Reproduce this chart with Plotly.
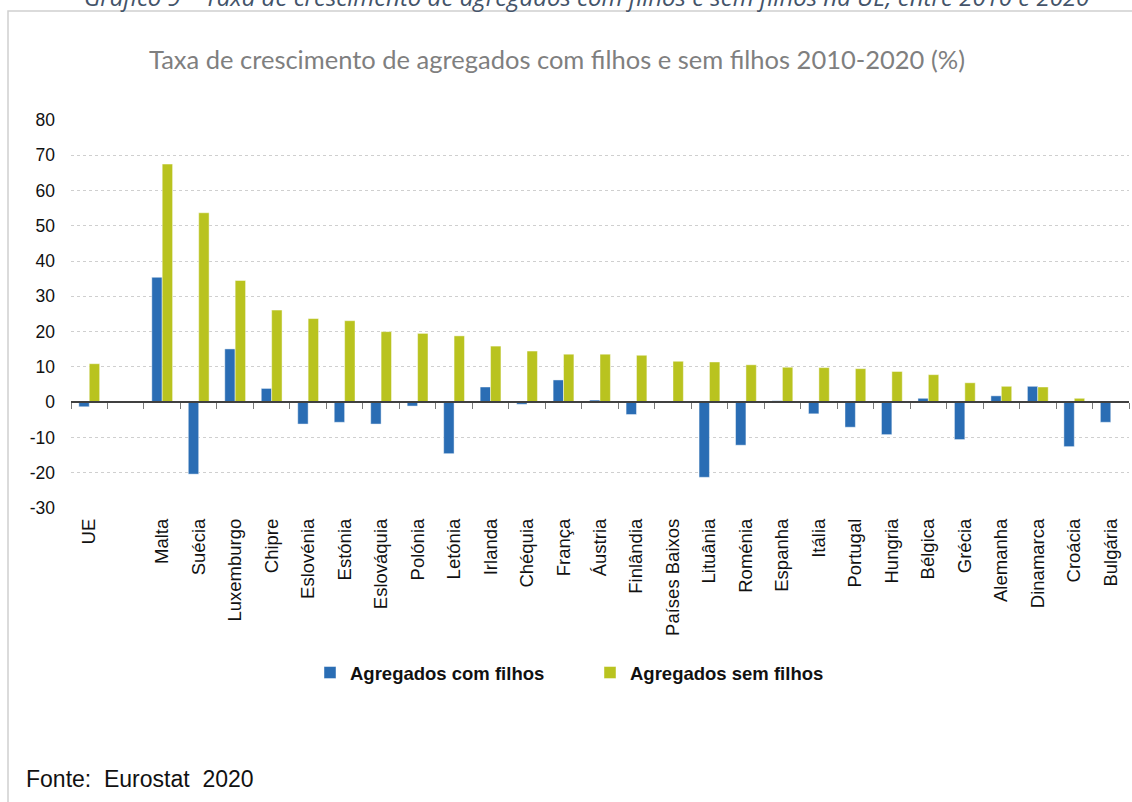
import plotly.graph_objects as go

categories = ["UE", " ", "Malta", "Suécia", "Luxemburgo", "Chipre", "Eslovénia", "Estónia",
              "Eslováquia", "Polónia", "Letónia", "Irlanda", "Chéquia", "França", "Áustria",
              "Finlândia", "Países Baixos", "Lituânia", "Roménia", "Espanha", "Itália",
              "Portugal", "Hungria", "Bélgica", "Grécia", "Alemanha", "Dinamarca", "Croácia",
              "Bulgária"]

com_filhos = [-1.3, None, 35.4, -20.4, 15.1, 3.9, -6.2, -5.7, -6.2, -1.1, -14.6, 4.3, -0.6,
              6.3, 0.6, -3.5, 0.0, -21.3, -12.2, 0.4, -3.3, -7.1, -9.2, 1.1, -10.6, 1.8, 4.5,
              -12.6, -5.7]

sem_filhos = [10.9, None, 67.5, 53.7, 34.5, 26.1, 23.7, 23.1, 20.0, 19.5, 18.8, 15.9, 14.5,
              13.6, 13.6, 13.3, 11.6, 11.4, 10.6, 9.9, 9.8, 9.5, 8.7, 7.8, 5.5, 4.5, 4.3,
              1.1, 0.0]

y_ticks = [-30, -20, -10, 0, 10, 20, 30, 40, 50, 60, 70, 80]
y_tick_text = ["-30", "-20", "-10", "0", "10", "20", "30", "40", "50", "60", "70", "80"]

W, H = 1132, 802
L, R, T, B = 71, 3, 120, 294
pw, ph = W - L - R, H - T - B


def px_x(x):
    return (x - L) / pw


def px_y(y):
    return (H - B - y) / ph


xs = list(range(len(categories)))

fig = go.Figure()
fig.add_trace(go.Bar(
    x=xs, y=com_filhos, name="Agregados com filhos",
    marker=dict(color="#2A6DB4", line=dict(color="rgba(255,255,255,0.45)", width=1)),
))
fig.add_trace(go.Bar(
    x=xs, y=sem_filhos, name="Agregados sem filhos",
    marker=dict(color="#B9C31F", line=dict(color="rgba(255,255,255,0.45)", width=1)),
))
# helper trace so the zero-line axis (with its boundary ticks) is drawn
fig.add_trace(go.Scatter(x=[None], y=[None], xaxis="x2", showlegend=False,
                         hoverinfo="skip", mode="markers"))

zero_pos = (0 - y_ticks[0]) / (y_ticks[-1] - y_ticks[0])

fig.update_layout(
    width=W, height=H,
    margin=dict(l=L, r=R, t=T, b=B),
    paper_bgcolor="white", plot_bgcolor="white",
    barmode="group", bargap=0.43, bargroupgap=0.0,
    font=dict(family="Liberation Sans, Arial, sans-serif", color="#1a1a1a", size=17),
    xaxis=dict(
        range=[-0.5, len(categories) - 0.5],
        tickmode="array", tickvals=xs, ticktext=categories,
        tickangle=-90, ticks="", showline=False, showgrid=False, zeroline=False,
        tickfont=dict(size=18.5, color="#111111"),
        ticklabelstandoff=6,
        fixedrange=True,
    ),
    xaxis2=dict(
        overlaying="x", anchor="free", position=zero_pos, side="bottom",
        range=[-0.5, len(categories) - 0.5],
        tickmode="array", tickvals=[i - 0.5 for i in range(len(categories) + 1)],
        ticks="outside", ticklen=6, tickwidth=1, tickcolor="#7a7a7a",
        showticklabels=False, showline=True, linecolor="#404040", linewidth=1.5,
        showgrid=False, zeroline=False,
    ),
    yaxis=dict(
        range=[y_ticks[0], y_ticks[-1]],
        tickmode="array", tickvals=y_ticks, ticktext=y_tick_text,
        showgrid=True, gridcolor="#cfcfcf", griddash="dot", gridwidth=1,
        zeroline=False, showline=False, ticks="", ticklen=0,
        tickfont=dict(size=17.5, color="#111111"),
        ticklabelstandoff=15,
    ),
    title=dict(
        text="Taxa de crescimento de agregados com filhos e sem filhos 2010-2020 (%)",
        font=dict(family="Lato, sans-serif", size=25.5, color="#7f7f7f"),
        x=px_x(557), xanchor="center", xref="paper",
        y=1 - 60 / H, yanchor="middle",
    ),
    legend=dict(
        orientation="h", x=px_x(310), xanchor="left",
        y=px_y(673), yanchor="middle",
        font=dict(size=18.5, color="#111111", weight="bold"),
        itemwidth=30, entrywidth=235, traceorder="normal",
        bgcolor="rgba(0,0,0,0)",
    ),
    shapes=[
        dict(type="rect", xref="paper", yref="paper",
             x0=px_x(8), x1=px_x(W + 20), y0=px_y(H + 20), y1=px_y(11),
             line=dict(color="#d0d0d0", width=1.5), fillcolor="rgba(0,0,0,0)",
             layer="below"),
    ],
    annotations=[
        dict(text="Fonte:\u00a0 Eurostat\u00a0 2020", xref="paper", yref="paper",
             x=px_x(24), y=px_y(779), xanchor="left", yanchor="middle",
             showarrow=False, font=dict(size=23, color="#111111")),
        dict(text="<i>Gráfico 9 – Taxa de crescimento de agregados com filhos e sem filhos na UE, entre 2010 e 2020</i>",
             xref="paper", yref="paper", x=px_x(586), y=px_y(-4), xanchor="center",
             yanchor="middle", showarrow=False,
             font=dict(family="Open Sans, sans-serif", size=24, color="#44546A")),
    ],
)

fig.write_html("out.html", config={"displayModeBar": False},
               post_script="document.body.style.margin='0';")
